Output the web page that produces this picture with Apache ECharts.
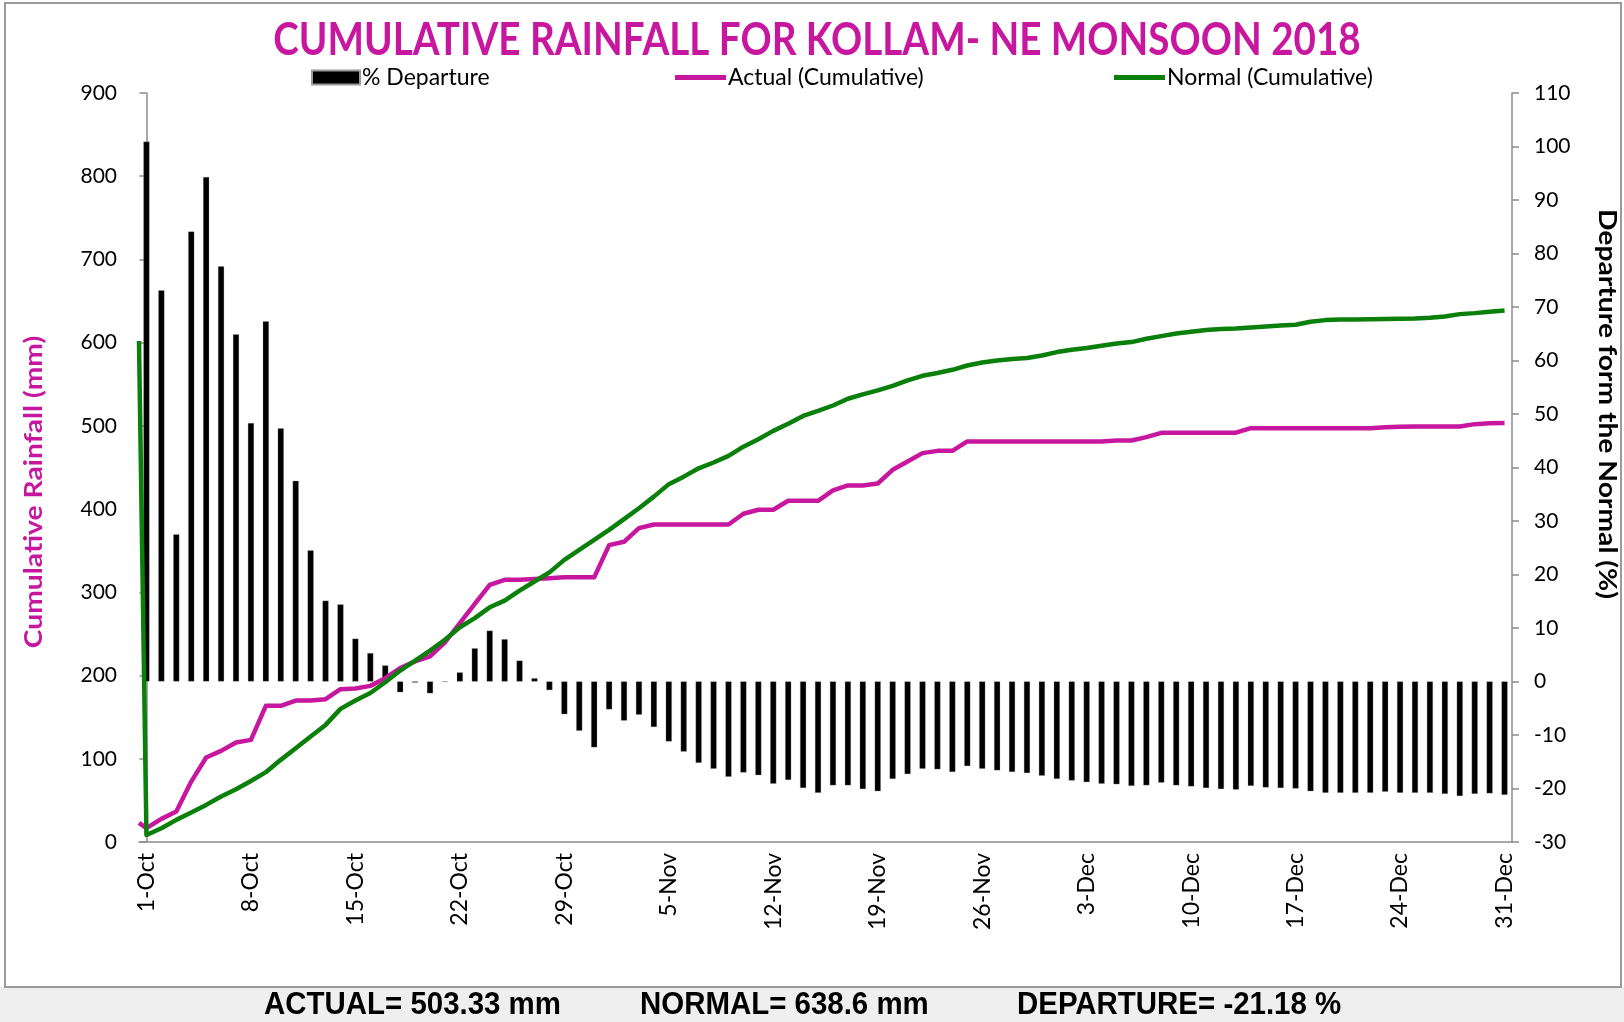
<!DOCTYPE html>
<html>
<head>
<meta charset="utf-8">
<script src="https://cdn.jsdelivr.net/npm/echarts@6/dist/echarts.min.js"></script>
<style>
html,body{margin:0;padding:0;background:#fff;}
#chart{width:1624px;height:1022px;}
</style>
</head>
<body>
<div id="chart"></div>
<script>
// ---- Data ----
const months = [['Oct', 31], ['Nov', 30], ['Dec', 31]];
const categories = [];
months.forEach(function (m) { for (let d = 1; d <= m[1]; d++) categories.push(d + '-' + m[0]); });

// % departure from normal (right axis)
const departure = [
  100.9, 73.1, 27.5, 84.1, 94.3, 77.6, 64.9, 48.3, 67.3, 47.3,
  37.5, 24.5, 15.1, 14.4, 8.0, 5.3, 3.0, -2.0, -0.2, -2.2,
  -0.1, 1.7, 6.2, 9.5, 7.9, 3.9, 0.6, -1.6, -6.1, -9.2,
  -12.3, -5.2, -7.3, -6.2, -8.5, -11.2, -13.1, -15.2, -16.3, -17.8,
  -17.0, -17.5, -19.1, -18.4, -19.9, -20.8, -19.4, -19.4, -20.1, -20.5,
  -18.2, -17.3, -16.3, -16.4, -16.9, -15.8, -16.3, -16.6, -16.9, -17.1,
  -17.6, -18.2, -18.5, -18.8, -19.1, -19.2, -19.5, -19.4, -18.9, -19.4,
  -19.6, -19.9, -20.1, -20.2, -19.5, -19.8, -19.9, -20.0, -20.5, -20.8,
  -20.8, -20.8, -20.8, -20.6, -20.8, -20.8, -20.8, -21.0, -21.4, -21.0,
  -20.9, -21.18
];

// Actual cumulative rainfall (mm)
const actual = [
  16.6, 27.8, 36.6, 72.6, 101.5, 109.5, 119.5, 122.7, 163.6, 163.6,
  170, 170, 171.6, 183.6, 184.4, 187.6, 196.8, 208.9, 217, 223,
  240, 263, 286, 309, 315, 315, 316, 317, 318, 318,
  318, 356.7, 360.7, 377.2, 381.5, 381.5, 381.5, 381.5, 381.5, 381.5,
  394.4, 399.2, 399.2, 410, 410, 410, 422.4, 428.4, 428.4, 430.8,
  447.2, 457.2, 467.3, 470, 470, 481.3, 481.3, 481.3, 481.3, 481.3,
  481.3, 481.3, 481.3, 481.3, 481.3, 482.5, 482.5, 486.5, 491.7, 491.7,
  491.7, 491.7, 491.7, 491.9, 497.3, 497.3, 497.3, 497.3, 497.3, 497.3,
  497.3, 497.3, 497.3, 498.5, 498.9, 499.3, 499.3, 499.3, 499.3, 502.1,
  503.3, 503.33
];

// Normal cumulative rainfall (mm)
const normal = [
  8.5, 16.6, 26.6, 35.4, 44.6, 54.6, 63.4, 73.4, 83.9, 98.7,
  112.7, 126.7, 140.7, 160, 170, 179, 192, 206, 218, 230,
  243, 258, 269, 282, 290, 302, 313, 324, 339, 351,
  363, 375, 388, 401, 415, 430, 439, 449, 456, 464,
  475, 484, 494, 502.5, 512, 518, 524.5, 532.6, 537.8, 542.6,
  548.2, 554.6, 560.2, 563.5, 567.4, 572.6, 576.2, 578.6, 580.3, 581.5,
  584.6, 588.7, 591.5, 593.5, 596.3, 599, 600.7, 604.7, 607.9, 611.1,
  613.1, 615.1, 616.3, 617.1, 618.3, 619.5, 620.7, 621.5, 625.1, 627.1,
  627.9, 627.9, 628, 628.3, 628.7, 629.1, 629.9, 631.5, 634.3, 635.5,
  637.1, 638.6
];

// Leading values of the line series, plotted at the axis start (as in the source sheet)
const actualStart = 23;
const normalStart = 602;

const seriesNames = ['% Departure', 'Actual (Cumulative)', 'Normal (Cumulative)'];
const titleText = 'CUMULATIVE RAINFALL FOR KOLLAM- NE MONSOON 2018';
const footerTexts = ['ACTUAL= 503.33 mm', 'NORMAL= 638.6 mm', 'DEPARTURE= -21.18 %'];
const leftAxisName = 'Cumulative Rainfall (mm)';
const rightAxisName = 'Departure form the Normal (%)';

// ---- Chart ----
const MAG = '#C8179F';
const GRN = '#0A7F0A';
const AX = '#8C8C8C';
const FONT = 'Lato, "Open Sans", sans-serif';
const FOOT = 'bold 32px "Liberation Sans", Arial, sans-serif';

function linePoints(start, vals) {
  const pts = [[-0.5, start]];
  vals.forEach(function (v, i) { pts.push([i, v]); });
  return pts;
}

const legendText = { fontFamily: FONT, fontSize: 23, color: '#000', padding: [0, 0, 0, -3] };

const chart = echarts.init(document.getElementById('chart'), null, { renderer: 'canvas' });
const option = {
  backgroundColor: '#ffffff',
  animation: false,
  grid: { left: 139, right: 112, top: 93, bottom: 180, containLabel: false },
  legend: [
    { data: [seriesNames[0]], left: 311, top: 66, padding: 0, icon: 'rect', itemWidth: 48, itemHeight: 14, textStyle: legendText },
    { data: [seriesNames[1]], left: 675, top: 66, padding: 0, icon: 'rect', itemWidth: 51, itemHeight: 5, textStyle: legendText },
    { data: [seriesNames[2]], left: 1114, top: 66, padding: 0, icon: 'rect', itemWidth: 51, itemHeight: 5, textStyle: legendText }
  ],
  xAxis: [
    {
      type: 'category', data: categories, boundaryGap: true,
      axisLine: { lineStyle: { color: AX, width: 1.5 } },
      axisTick: { interval: 6, length: 7, lineStyle: { color: AX, width: 1.5 } },
      axisLabel: { interval: 6, rotate: 90, color: '#000', fontFamily: FONT, fontSize: 23, margin: 11 },
      splitLine: { show: false }
    },
    { type: 'value', min: -0.5, max: 91.5, show: false }
  ],
  yAxis: [
    {
      type: 'value', min: 0, max: 900, interval: 100, position: 'left',
      axisLine: { show: true, lineStyle: { color: AX, width: 1.5 } },
      axisTick: { show: true, length: 7, lineStyle: { color: AX, width: 1.5 } },
      axisLabel: { color: '#000', fontFamily: FONT, fontSize: 21, margin: 22 },
      splitLine: { show: false }
    },
    {
      type: 'value', min: -30, max: 110, interval: 10, position: 'right',
      axisLine: { show: true, lineStyle: { color: AX, width: 1.5 } },
      axisTick: { show: true, length: 7, lineStyle: { color: AX, width: 1.5 } },
      axisLabel: { color: '#000', fontFamily: FONT, fontSize: 21, margin: 22 },
      splitLine: { show: false }
    }
  ],
  series: [
    {
      name: seriesNames[0], type: 'bar', xAxisIndex: 0, yAxisIndex: 1,
      data: departure, barWidth: 6,
      itemStyle: { color: '#000', borderColor: '#9a9a9a', borderWidth: 0.3 }
    },
    {
      name: seriesNames[1], type: 'line', xAxisIndex: 1, yAxisIndex: 0,
      data: linePoints(actualStart, actual), showSymbol: false, symbol: 'none',
      lineStyle: { color: MAG, width: 4.5, join: 'round' }, itemStyle: { color: MAG }, z: 3
    },
    {
      name: seriesNames[2], type: 'line', xAxisIndex: 1, yAxisIndex: 0,
      data: linePoints(normalStart, normal), showSymbol: false, symbol: 'none',
      lineStyle: { color: GRN, width: 4.5, join: 'round' }, itemStyle: { color: GRN }, z: 4
    }
  ],
  graphic: [
    { type: 'rect', z: -10, silent: true, shape: { x: 0, y: 987, width: 1624, height: 35 }, style: { fill: '#efefef' } },
    { type: 'rect', z: -9, silent: true, shape: { x: 5, y: 3, width: 1616, height: 984 }, style: { fill: 'none', stroke: '#9a9a9a', lineWidth: 2 } },
    { type: 'text', x: 817, y: 40, scaleX: 0.84, silent: true,
      style: { text: titleText, fill: MAG, font: 'bold 46px ' + FONT, textAlign: 'center', textVerticalAlign: 'middle' } },
    { type: 'text', x: 34, y: 492, rotation: Math.PI / 2, scaleX: 1.13, silent: true,
      style: { text: leftAxisName, fill: MAG, font: 'bold 25px ' + FONT, textAlign: 'center', textVerticalAlign: 'middle' } },
    { type: 'text', x: 1607, y: 404, rotation: -Math.PI / 2, scaleX: 1.13, silent: true,
      style: { text: rightAxisName, fill: '#000', font: 'bold 25px ' + FONT, textAlign: 'center', textVerticalAlign: 'middle' } },
    { type: 'text', x: 264, y: 1005, scaleX: 0.92, silent: true,
      style: { text: footerTexts[0], fill: '#000', font: FOOT, textAlign: 'left', textVerticalAlign: 'middle' } },
    { type: 'text', x: 640, y: 1005, scaleX: 0.92, silent: true,
      style: { text: footerTexts[1], fill: '#000', font: FOOT, textAlign: 'left', textVerticalAlign: 'middle' } },
    { type: 'text', x: 1017, y: 1005, scaleX: 0.92, silent: true,
      style: { text: footerTexts[2], fill: '#000', font: FOOT, textAlign: 'left', textVerticalAlign: 'middle' } }
  ]
};
chart.setOption(option);
</script>
</body>
</html>
